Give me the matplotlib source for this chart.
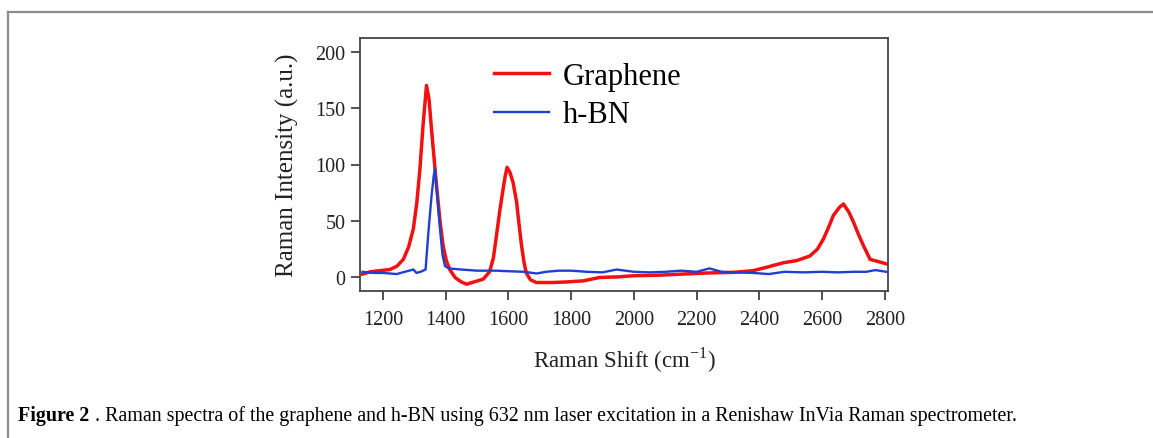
import matplotlib
matplotlib.use("Agg")
import matplotlib.pyplot as plt
from matplotlib.lines import Line2D

plt.rcParams['font.family'] = ['Liberation Serif', 'DejaVu Serif']

# Graphene spectrum
graphene_x = [1135, 1160, 1190, 1222, 1245, 1265, 1282, 1297, 1308, 1318, 1328,
              1339, 1347, 1355, 1363, 1371, 1382, 1392, 1402, 1413, 1430, 1450,
              1467, 1490, 1520, 1540, 1552, 1562, 1572, 1583, 1590, 1596, 1605,
              1615, 1626, 1634, 1642, 1650, 1657, 1670, 1689, 1740, 1785, 1839,
              1891, 1950, 1998, 2080, 2157, 2240, 2317, 2380, 2423, 2476, 2520,
              2561, 2585, 2604, 2620, 2636, 2655, 2668, 2685, 2700, 2716, 2732,
              2753, 2780, 2805]
graphene_y = [3, 5, 6, 7, 10, 16, 27, 43, 66, 96, 135,
              170, 158, 131, 106, 81, 50, 28, 15, 7, 0, -4,
              -6, -4, -1.5, 5, 17, 37, 58, 78, 90, 97.5, 93,
              84, 67, 47, 28, 13, 4, -2, -4.5, -4.5, -4, -3,
              0, 0.5, 1.5, 2, 3, 4, 4.5, 6, 9, 13, 15,
              19, 25, 34, 44, 55, 62, 65, 58, 49, 38, 28,
              16, 14, 12]

# h-BN spectrum
hbn_x = [1135, 1170, 1200, 1244, 1270, 1297, 1307, 1320, 1336, 1345, 1355,
         1362, 1366, 1374, 1382, 1390, 1398, 1410, 1450, 1500, 1562, 1600,
         1650, 1690, 1720, 1760, 1800, 1850, 1900, 1945, 2000, 2050, 2100,
         2150, 2200, 2241, 2280, 2320, 2380, 2430, 2480, 2540, 2600, 2650,
         2700, 2740, 2770, 2805]
hbn_y = [5, 4, 4, 3, 5, 7, 4, 5, 7, 40, 72,
         90, 96, 70, 43, 20, 10, 8, 7, 6, 6, 5.5,
         5, 3.5, 5, 6, 6, 5, 4.5, 7, 5, 4.5, 5,
         6, 5, 8, 5, 4.5, 4, 3, 5, 4.5, 5, 4.5,
         5, 5, 6.5, 5]

x_ticks = [1200, 1400, 1600, 1800, 2000, 2200, 2400, 2600, 2800]
y_ticks = [0, 50, 100, 150, 200]

fig = plt.figure(figsize=(11.53, 4.39), dpi=100)
ax = fig.add_axes([360 / 1153, 1 - 292 / 439, 528 / 1153, 253 / 439])

ax.plot(graphene_x, graphene_y, color='#f21010', lw=2.5, label='Graphene')
ax.plot(hbn_x, hbn_y, color='#1f3fcf', lw=1.7, label='h-BN')

ax.set_xlim(1127, 2810)
ax.set_ylim(-12, 212)
ax.set_xticks(x_ticks)
ax.set_yticks(y_ticks)
ax.tick_params(direction='out', length=6.5, width=1.2, labelsize=14.5,
               colors='#333333', labelcolor='#222222')
ax.tick_params(axis='x', pad=7)
ax.tick_params(axis='y', pad=4)
for s in ax.spines.values():
    s.set_color('#444444')
    s.set_linewidth(1.3)

ax.set_xlabel('Raman Shift (cm$^{\\mathregular{-1}}$)', fontsize=16.5, color='#222222', labelpad=11)
ax.set_ylabel('Raman Intensity (a.u.)', fontsize=18, color='#222222', labelpad=12)

leg = ax.legend(loc='upper left', bbox_to_anchor=(0.225, 0.965), frameon=False,
                fontsize=22, handlelength=1.8, handletextpad=0.45, labelspacing=0.3,
                borderpad=0)

# page frame lines
fig.add_artist(Line2D([8 / 1153, 1], [1 - 13 / 439, 1 - 13 / 439], color='#8c8c8c', lw=1.6))
fig.add_artist(Line2D([8 / 1153, 8 / 1153], [0, 1 - 13 / 439], color='#8c8c8c', lw=1.6))

# caption
t1 = fig.text(18 / 1153, 1 - 421 / 439, 'Figure 2', fontsize=14.4, fontweight='bold',
              va='baseline', ha='left')
fig.canvas.draw()
bb = t1.get_window_extent()
fig.text(bb.x1 / 1153 + 0.001, 1 - 421 / 439,
         ' . Raman spectra of the graphene and h-BN using 632 nm laser excitation in a Renishaw InVia Raman spectrometer.',
         fontsize=14.4, va='baseline', ha='left')

fig.savefig('out.png', dpi=100)
